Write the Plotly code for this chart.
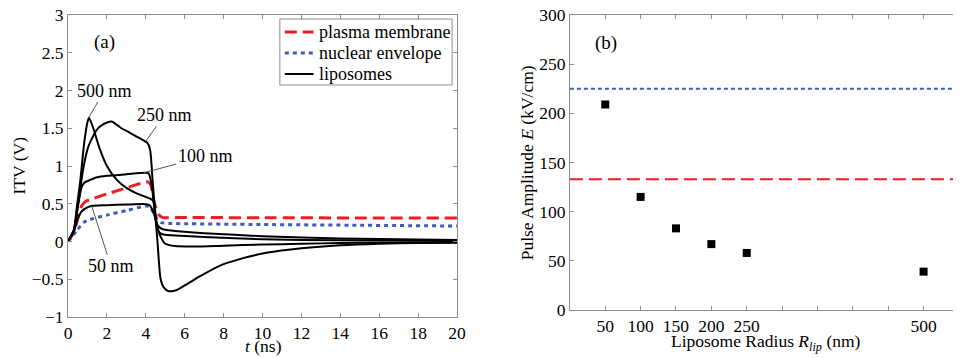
import plotly.graph_objects as go

# ---------------- Panel (a) data ----------------
pm_t = [0, 0.3, 0.5, 0.7, 0.9, 1.2, 2, 3, 4.1, 4.25, 4.45, 4.65, 4.85, 6, 10, 15, 20]
pm_v = [0, 0.12, 0.3, 0.47, 0.53, 0.56, 0.63, 0.71, 0.79, 0.75, 0.5, 0.36, 0.32, 0.318, 0.315, 0.312, 0.31]

ne_t = [0, 0.5, 0.8, 1.0, 2, 3, 4, 4.2, 4.4, 4.6, 4.8, 5.2, 10, 15, 20]
ne_v = [0, 0.16, 0.25, 0.28, 0.35, 0.41, 0.47, 0.46, 0.38, 0.29, 0.25, 0.24, 0.225, 0.215, 0.205]

l500_t = [0, 0.3, 0.45, 0.63, 0.83, 1.0, 1.08, 1.3, 1.6, 2.0, 2.5, 3.0, 3.5, 4.0, 4.2, 4.4, 4.5, 4.6,
          4.75, 4.9, 5.1, 5.3, 5.6, 6.2, 7.0, 7.9, 9.0, 10.2, 12, 14, 16, 18, 20]
l500_v = [0, 0.15, 0.45, 0.8, 1.3, 1.58, 1.64, 1.5, 1.25, 1.0, 0.82, 0.71, 0.64, 0.59, 0.57, 0.53, 0.3, 0.0,
          -0.48, -0.6, -0.65, -0.66, -0.64, -0.55, -0.43, -0.31, -0.22, -0.15, -0.09, -0.05, -0.03, -0.02, -0.015]

l250_t = [0, 0.3, 0.63, 0.8, 1.05, 1.48, 1.8, 2.24, 2.75, 3.18, 3.6, 3.94, 4.1, 4.23, 4.36, 4.53, 4.7,
          4.85, 5.0, 5.5, 6.5, 8, 10, 12, 14, 16, 20]
l250_v = [0, 0.15, 0.7, 0.99, 1.26, 1.48, 1.55, 1.59, 1.5, 1.44, 1.38, 1.33, 1.3, 1.2, 0.77, 0.29, 0.1,
          0.02, -0.03, -0.06, -0.066, -0.055, -0.04, -0.03, -0.02, -0.015, -0.01]

l100_t = [0, 0.3, 0.5, 0.7, 0.85, 1.0, 1.5, 2, 3, 4.0, 4.15, 4.3, 4.45, 4.62, 4.8, 5.0, 5.5, 7, 10, 14, 20]
l100_v = [0, 0.15, 0.45, 0.72, 0.78, 0.8, 0.85, 0.87, 0.89, 0.91, 0.9, 0.75, 0.42, 0.15, 0.1, 0.09, 0.08,
          0.06, 0.03, 0.015, 0.005]

l50_t = [0, 0.3, 0.5, 0.7, 0.9, 1.2, 2, 3, 4, 4.2, 4.4, 4.6, 4.8, 5.0, 5.5, 7, 10, 14, 20]
l50_v = [0, 0.13, 0.3, 0.4, 0.44, 0.47, 0.48, 0.49, 0.495, 0.48, 0.38, 0.22, 0.17, 0.155, 0.14, 0.11, 0.07,
         0.04, 0.02]

# label annotations: (text, curve point t, V, text t, V)
lip_labels = ["500 nm", "250 nm", "100 nm", "50 nm"]
lip_label_pt = [(1.07, 1.64), (4.0, 1.33), (3.9, 0.91), (1.22, 0.47)]
lip_label_txt = [(1.87, 2.0), (4.97, 1.68), (7.05, 1.13), (2.21, -0.33)]

legend_labels = ["plasma membrane", "nuclear envelope", "liposomes"]

# ---------------- Panel (b) data ----------------
radius = [50, 100, 150, 200, 250, 500]
amplitude = [209, 115, 83, 67, 58, 39]
pm_threshold = 133
ne_threshold = 225
xb_tickvals = [0, 50, 100, 150, 200, 250, 300, 350, 400, 450, 500]
xb_ticktext = ["", "50", "100", "150", "200", "250", "", "", "", "", "500"]

FONT = "Liberation Serif"
RED = "#ee1c24"
BLUE = "#3a5fb5"
FRAME = "#8c8c8c"

# pixel -> paper helpers (plot area: x 68..962, y 15..317)
def px(x):
    return (x - 68) / 894

def py(y):
    return (317 - y) / 302

fig = go.Figure()

line_kw = dict(shape="spline", smoothing=0.6)
PM_LINE = dict(color=RED, width=3, dash="12px,6px")
NE_LINE = dict(color=BLUE, width=3, dash="4px,4px")
LIP_LINE = dict(color="black", width=2)

fig.add_trace(go.Scatter(x=pm_t, y=pm_v, mode="lines", name=legend_labels[0], showlegend=False,
                         line=dict(**PM_LINE, **line_kw), xaxis="x", yaxis="y"))
fig.add_trace(go.Scatter(x=ne_t, y=ne_v, mode="lines", name=legend_labels[1], showlegend=False,
                         line=dict(**NE_LINE, **line_kw), xaxis="x", yaxis="y"))
for tt, vv in [(l500_t, l500_v), (l250_t, l250_v), (l100_t, l100_v), (l50_t, l50_v)]:
    fig.add_trace(go.Scatter(x=tt, y=vv, mode="lines", name=legend_labels[2], showlegend=False,
                             line=dict(**LIP_LINE, **line_kw), xaxis="x", yaxis="y"))

fig.add_trace(go.Scatter(x=radius, y=amplitude, mode="markers", showlegend=False,
                         marker=dict(symbol="square", size=8, color="black"),
                         xaxis="x2", yaxis="y2"))

# horizontal threshold lines on panel (b)
fig.add_shape(type="line", xref="x2 domain", yref="y2", x0=0, x1=1, y0=ne_threshold, y1=ne_threshold,
              line=dict(color=BLUE, width=2, dash="4px,3px"))
fig.add_shape(type="line", xref="x2 domain", yref="y2", x0=0, x1=1, y0=pm_threshold, y1=pm_threshold,
              line=dict(color=RED, width=2, dash="13px,6px"))

# legend box (drawn manually to match the compact row spacing)
fig.add_shape(type="rect", xref="paper", yref="paper", x0=px(282), x1=px(456), y0=py(85), y1=py(19),
              line=dict(color=FRAME, width=1), fillcolor="white", layer="above")
legend_rows = [32, 53, 74]
for row_y, style in zip(legend_rows, [PM_LINE, NE_LINE, LIP_LINE]):
    fig.add_shape(type="line", xref="paper", yref="paper", x0=px(287), x1=px(316),
                  y0=py(row_y), y1=py(row_y), line=style, layer="above")

axis_common = dict(showline=True, linecolor=FRAME, linewidth=1, ticks="inside", ticklen=4,
                   tickcolor=FRAME, showgrid=False, zeroline=False,
                   tickfont=dict(family=FONT, size=17.5, color="black"))

fig.update_layout(
    width=962, height=358,
    margin=dict(l=68, r=0, t=15, b=41),
    plot_bgcolor="white", paper_bgcolor="white",
    font=dict(family=FONT, size=17, color="black"),
    showlegend=False,
    xaxis=dict(domain=[0, 0.4396], range=[0, 20], tickvals=list(range(0, 21, 2)),
               mirror="ticks", anchor="y", **axis_common),
    yaxis=dict(domain=[0, 1], range=[-1, 3], tickvals=[-1, -0.5, 0, 0.5, 1, 1.5, 2, 2.5, 3],
               ticktext=["−1", "−0.5", "0", "0.5", "1", "1.5", "2", "2.5", "3"],
               mirror="ticks", anchor="x", **axis_common),
    xaxis2=dict(domain=[0.5671, 1], range=[0, 541.6], tickvals=xb_tickvals, ticktext=xb_ticktext,
                mirror="ticks", anchor="y2", **axis_common),
    yaxis2=dict(domain=[0.0232, 1], range=[0, 300], tickvals=[0, 50, 100, 150, 200, 250, 300],
                mirror=False, anchor="x2", **axis_common),
)

annotations = []
for txt, (cx, cy), (tx, ty) in zip(lip_labels, lip_label_pt, lip_label_txt):
    annotations.append(dict(x=cx, y=cy, ax=tx, ay=ty, xref="x", yref="y", axref="x", ayref="y",
                            text=txt, showarrow=True, arrowhead=0, arrowwidth=1, arrowcolor="#555",
                            font=dict(family=FONT, size=18, color="black")))
annotations.append(dict(x=1.87, y=2.64, xref="x", yref="y", text="(a)", showarrow=False,
                        font=dict(family=FONT, size=19)))
annotations.append(dict(x=51.4, y=271.5, xref="x2", yref="y2", text="(b)", showarrow=False,
                        font=dict(family=FONT, size=19)))
for row_y, lab in zip(legend_rows, legend_labels):
    annotations.append(dict(x=px(320), y=py(row_y), xref="paper", yref="paper", text=lab,
                            showarrow=False, xanchor="left", yanchor="middle",
                            font=dict(family=FONT, size=18)))
# axis titles
title_kw = dict(xref="paper", yref="paper", showarrow=False, xanchor="center", yanchor="middle",
                font=dict(family=FONT, size=17.5))
annotations.append(dict(x=px(18), y=py(166), text="ITV (V)", textangle=-90, **title_kw))
annotations.append(dict(x=px(265), y=py(346), text="<i>t</i> (ns)", **title_kw))
annotations.append(dict(x=px(532), y=py(163),
                        text="Pulse Amplitude <i>E</i> (kV/cm)", textangle=-90, **title_kw))
annotations.append(dict(x=px(773), y=py(342),
                        text="Liposome Radius <i>R</i><sub><i>lip</i></sub> (nm)", **title_kw))
fig.update_layout(annotations=annotations)

fig.write_html("out.html")
